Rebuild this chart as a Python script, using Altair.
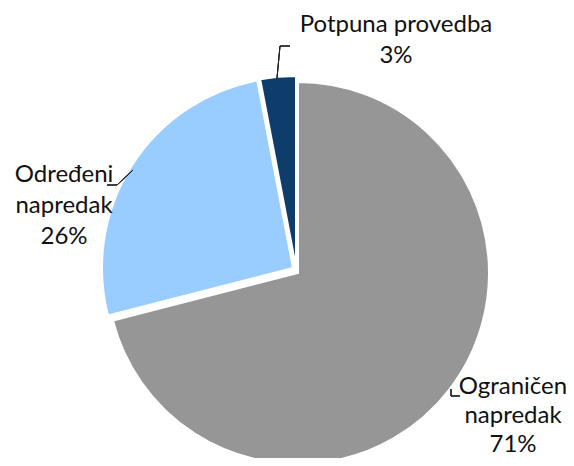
import altair as alt
import pandas as pd

categories = ["Ograničen napredak", "Određeni napredak", "Potpuna provedba"]
values = [71, 26, 3]
slice_order = [0, 1, 2]
colors = ["#969696", "#99CCFF", "#0F3D6B"]

df = pd.DataFrame({"category": categories, "value": values, "order": slice_order})

base = alt.Chart(df).transform_window(
    end="sum(value)", frame=[None, 0], sort=[alt.SortField("order")]
).transform_calculate(start="datum.end - datum.value")

theta_scale = alt.Scale(domain=[0, 100], range=[0, 6.283185307179586])
color_scale = alt.Scale(domain=categories, range=colors)

R = 191


def slice_layer(cat, cx, cy):
    return base.transform_filter(alt.datum.category == cat).mark_arc(
        radius=R, stroke="white", strokeWidth=2
    ).encode(
        theta=alt.Theta("start:Q", scale=theta_scale),
        theta2="end:Q",
        color=alt.Color("category:N", scale=color_scale, legend=None),
        x=alt.value(cx),
        y=alt.value(cy),
    )


def label_layer(cat, cx, cy, split=True, line_height=32):
    name = "replace(datum.category, ' ', '\\n')" if split else "datum.category"
    return base.transform_filter(alt.datum.category == cat).transform_calculate(
        label=name + " + '\\n' + datum.value + '%'"
    ).mark_text(
        font="Lato", fontSize=24, lineBreak="\n", lineHeight=line_height,
        align="center", baseline="alphabetic", color="#111111"
    ).encode(
        x=alt.value(cx), y=alt.value(cy), text="label:N"
    )


def seg(x1, y1, x2, y2):
    return alt.Chart(df).mark_rule(color="#222222", strokeWidth=1).encode(
        x=alt.value(x1), y=alt.value(y1), x2=alt.value(x2), y2=alt.value(y2)
    )


layers = [
    slice_layer(categories[0], 290, 265),
    slice_layer(categories[1], 285, 260),
    slice_layer(categories[2], 288, 259),
    label_layer(categories[0], 505, 386, line_height=29),
    label_layer(categories[1], 56, 174, line_height=31),
    label_layer(categories[2], 388, 24, split=False, line_height=31),
    seg(269, 70, 272, 38), seg(272, 38, 282, 38),
    seg(125, 162, 109, 177), seg(109, 177, 99, 177),
    seg(443, 381, 443, 388), seg(443, 388, 452, 388),
]

chart = alt.layer(*layers).properties(
    width=558, height=450, padding=0, autosize="none", background="white"
).configure_view(stroke=None)

chart.save("out.html", embed_options={"renderer": "svg", "actions": False})
